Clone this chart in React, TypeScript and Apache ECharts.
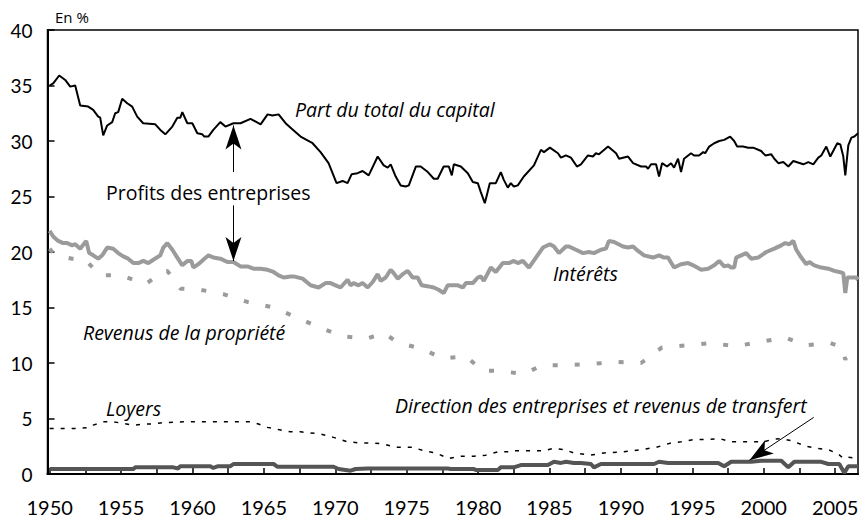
import React, { useEffect, useRef } from "react";
import * as echarts from "echarts";

const FONT = "Lato, 'Open Sans', sans-serif";
const TEXT_FONT = "'Open Sans', Lato, sans-serif";

const labelYears = [1950, 1955, 1960, 1965, 1970, 1975, 1980, 1985, 1990, 1995, 2000, 2005];
const tickYears = [1950, 1952.5, 1955, 1957.5, 1960, 1962.5, 1965, 1967.5, 1970, 1972.5, 1975, 1977.5, 1980, 1982.5, 1985, 1987.5, 1990, 1992.5, 1995, 1997.5, 2000, 2002.5, 2005];

// Part du total du capital
const capital: [number, number][] = [
  [1950.0, 35.0], [1950.25, 35.2], [1950.67, 35.9], [1951.09, 35.5], [1951.44, 34.9], [1951.79, 35.0], [1952.14, 33.2], [1952.7, 33.1], [1953.05, 32.8], [1953.4, 32.2], [1953.54, 32.1], [1953.75, 30.5], [1954.03, 31.4], [1954.38, 31.7], [1954.59, 32.5], [1954.8, 32.6], [1955.08, 33.8], [1955.43, 33.4], [1955.78, 33.1], [1956.13, 32.2], [1956.55, 31.6], [1957.4, 31.5], [1957.75, 31.0], [1958.1, 30.6], [1958.59, 31.3], [1958.94, 32.1], [1959.15, 32.1], [1959.29, 32.6], [1959.64, 31.6], [1959.99, 31.6], [1960.34, 30.7], [1960.69, 30.6], [1960.83, 30.4], [1961.11, 30.4], [1961.46, 31.0], [1961.95, 31.7], [1962.31, 31.3], [1962.87, 31.6], [1963.36, 31.6], [1964.07, 32.0], [1964.77, 31.5], [1965.26, 32.4], [1965.6, 32.3], [1966.03, 32.4], [1966.52, 31.6], [1966.87, 31.2], [1967.57, 30.4], [1968.41, 29.8], [1968.97, 29.0], [1969.53, 28.0], [1970.09, 26.2], [1970.51, 26.4], [1970.86, 26.2], [1971.14, 27.0], [1971.56, 27.1], [1971.91, 27.3], [1972.34, 26.9], [1972.97, 28.6], [1973.39, 27.8], [1973.67, 27.6], [1973.88, 27.9], [1974.23, 26.8], [1974.58, 26.0], [1974.93, 25.9], [1975.15, 26.0], [1975.64, 27.7], [1975.98, 27.7], [1976.48, 27.2], [1976.9, 26.6], [1977.17, 26.6], [1977.59, 27.7], [1977.95, 27.7], [1978.16, 26.9], [1978.3, 27.9], [1978.79, 27.7], [1979.28, 27.1], [1979.63, 26.3], [1979.98, 26.2], [1980.19, 25.4], [1980.47, 24.4], [1980.82, 26.2], [1981.24, 26.2], [1981.59, 27.2], [1981.8, 26.5], [1982.08, 25.8], [1982.29, 26.2], [1982.5, 25.9], [1982.78, 26.0], [1983.2, 26.8], [1983.91, 27.8], [1984.4, 29.2], [1984.61, 29.0], [1985.03, 29.4], [1985.59, 28.9], [1985.8, 28.5], [1986.15, 28.7], [1986.5, 28.5], [1986.92, 27.7], [1987.2, 27.9], [1987.69, 28.7], [1988.04, 28.6], [1988.25, 28.9], [1988.46, 28.8], [1989.1, 29.5], [1989.66, 28.9], [1989.87, 28.4], [1990.5, 28.6], [1990.85, 28.0], [1991.41, 27.7], [1991.76, 27.7], [1991.9, 27.5], [1992.11, 27.9], [1992.46, 27.9], [1992.67, 26.8], [1992.88, 28.0], [1993.23, 27.7], [1993.51, 28.0], [1993.72, 27.6], [1994.0, 28.4], [1994.21, 27.2], [1994.42, 28.4], [1994.91, 28.9], [1995.12, 28.7], [1995.47, 28.7], [1995.76, 29.0], [1995.9, 28.9], [1996.18, 29.5], [1996.53, 29.8], [1996.88, 30.0], [1997.23, 30.1], [1997.65, 30.4], [1997.93, 30.0], [1998.14, 29.5], [1998.56, 29.5], [1998.91, 29.4], [1999.26, 29.4], [1999.82, 29.1], [2000.11, 28.7], [2000.53, 28.8], [2000.74, 28.4], [2001.02, 28.0], [2001.37, 28.1], [2001.72, 27.7], [2002.07, 28.2], [2002.77, 27.9], [2003.12, 28.1], [2003.47, 27.9], [2003.82, 28.5], [2004.03, 28.7], [2004.38, 29.5], [2004.66, 28.6], [2005.15, 29.8], [2005.36, 29.7], [2005.57, 28.6], [2005.71, 26.9], [2005.92, 29.6], [2006.14, 30.3], [2006.35, 30.4], [2006.6, 30.7],
];

// Intérêts
const interets: [number, number][] = [
  [1950.0, 21.9], [1950.25, 21.4], [1950.6, 21.0], [1950.95, 20.8], [1951.23, 20.8], [1951.58, 20.6], [1951.79, 20.7], [1952.14, 20.3], [1952.56, 21.0], [1952.77, 19.9], [1953.05, 19.7], [1953.4, 19.4], [1953.68, 19.7], [1954.03, 20.4], [1954.45, 20.3], [1954.8, 19.9], [1955.15, 19.6], [1955.5, 19.4], [1955.86, 19.0], [1956.21, 19.0], [1956.56, 19.2], [1956.91, 19.0], [1957.26, 19.3], [1957.75, 19.7], [1957.96, 20.4], [1958.24, 20.8], [1958.59, 20.2], [1958.94, 19.5], [1959.29, 18.8], [1959.64, 19.2], [1959.92, 19.2], [1960.06, 18.6], [1960.41, 18.9], [1960.76, 19.3], [1961.12, 19.7], [1961.46, 19.5], [1961.95, 19.4], [1962.45, 19.1], [1962.87, 19.1], [1963.36, 18.7], [1963.85, 18.7], [1964.27, 18.5], [1964.76, 18.5], [1965.26, 18.4], [1965.68, 18.2], [1966.03, 17.9], [1966.38, 17.7], [1966.87, 17.8], [1967.08, 17.8], [1967.71, 17.6], [1968.27, 17.0], [1968.83, 16.8], [1969.32, 17.2], [1969.67, 17.2], [1970.02, 17.0], [1970.37, 16.8], [1970.86, 17.5], [1971.07, 17.0], [1971.28, 17.2], [1971.63, 17.0], [1971.91, 17.2], [1972.27, 16.8], [1972.62, 17.3], [1972.97, 18.0], [1973.18, 17.4], [1973.53, 17.7], [1973.88, 18.4], [1974.09, 18.1], [1974.37, 17.6], [1974.72, 18.0], [1975.07, 18.3], [1975.42, 17.7], [1975.77, 17.7], [1976.05, 17.0], [1976.54, 16.9], [1976.89, 16.8], [1977.24, 16.6], [1977.59, 16.3], [1977.87, 17.0], [1978.58, 17.0], [1978.93, 16.8], [1979.14, 17.2], [1979.63, 17.2], [1979.98, 17.7], [1980.19, 17.8], [1980.4, 17.4], [1980.89, 18.6], [1981.24, 18.2], [1981.73, 19.0], [1982.15, 19.0], [1982.5, 19.2], [1982.78, 19.0], [1983.13, 19.2], [1983.56, 18.6], [1984.05, 19.5], [1984.54, 20.4], [1985.03, 20.7], [1985.31, 20.5], [1985.66, 19.9], [1986.15, 20.5], [1986.36, 20.5], [1986.85, 20.2], [1987.34, 19.9], [1987.76, 20.0], [1988.11, 19.9], [1988.6, 20.2], [1988.95, 20.3], [1989.16, 21.0], [1989.52, 20.9], [1990.15, 20.5], [1990.5, 20.4], [1990.85, 20.5], [1991.2, 20.1], [1991.62, 19.7], [1992.25, 19.5], [1992.67, 19.7], [1993.02, 19.5], [1993.3, 19.5], [1993.72, 18.6], [1994.21, 18.9], [1994.71, 19.0], [1995.06, 18.8], [1995.62, 18.4], [1996.11, 18.5], [1996.53, 18.8], [1996.88, 19.2], [1997.23, 18.7], [1997.51, 18.8], [1997.72, 18.6], [1997.93, 18.6], [1998.07, 19.5], [1998.42, 19.7], [1998.77, 19.9], [1999.12, 19.4], [1999.61, 19.5], [2000.18, 20.0], [2000.74, 20.3], [2001.23, 20.6], [2001.51, 20.8], [2001.79, 20.7], [2002.07, 21.0], [2002.28, 20.2], [2002.63, 19.5], [2002.98, 18.9], [2003.19, 19.1], [2003.54, 18.8], [2004.03, 18.6], [2004.52, 18.5], [2004.94, 18.3], [2005.29, 18.2], [2005.57, 18.1], [2005.71, 16.3], [2005.85, 17.7], [2006.14, 17.7], [2006.49, 17.7], [2006.6, 17.5],
];

// Revenus de la propriété
const revenus: [number, number][] = [
  [1950.0, 20.3], [1950.25, 19.9], [1950.74, 19.6], [1951.58, 19.4], [1952.49, 19.3], [1953.54, 17.9], [1955.02, 17.9], [1956.7, 17.1], [1957.96, 18.2], [1958.24, 18.3], [1959.15, 16.7], [1960.55, 16.6], [1962.17, 16.2], [1963.85, 15.5], [1965.68, 15.0], [1967.29, 14.1], [1968.9, 13.2], [1970.51, 12.4], [1972.2, 12.2], [1973.39, 12.7], [1974.44, 11.8], [1976.05, 11.3], [1977.52, 10.4], [1979.14, 10.6], [1980.33, 9.3], [1981.45, 9.3], [1983.2, 9.0], [1984.47, 9.8], [1986.15, 9.8], [1987.9, 9.9], [1989.58, 10.1], [1991.41, 10.0], [1992.88, 11.4], [1994.63, 11.6], [1996.39, 11.8], [1998.0, 11.5], [1999.75, 11.9], [2001.51, 12.3], [2002.91, 11.6], [2004.66, 11.8], [2005.5, 11.4], [2005.71, 10.3], [2005.92, 11.0], [2006.6, 11.0],
];

// Loyers
const loyers: [number, number][] = [
  [1950.0, 4.1], [1951.93, 4.1], [1952.84, 4.2], [1953.05, 4.4], [1953.75, 4.7], [1954.45, 4.7], [1954.94, 4.6], [1955.86, 4.4], [1956.7, 4.5], [1957.26, 4.5], [1957.75, 4.6], [1959.36, 4.7], [1960.55, 4.7], [1962.31, 4.7], [1964.06, 4.7], [1964.62, 4.5], [1965.25, 4.2], [1966.03, 4.0], [1966.87, 3.8], [1967.57, 3.8], [1968.97, 3.6], [1969.88, 3.3], [1970.86, 2.9], [1971.77, 2.8], [1972.62, 2.8], [1973.39, 2.7], [1974.23, 2.4], [1975.42, 2.4], [1976.19, 2.1], [1977.03, 1.9], [1977.94, 1.4], [1978.79, 1.6], [1979.7, 1.6], [1980.54, 1.7], [1981.38, 2.0], [1982.29, 2.0], [1982.5, 2.1], [1984.61, 2.1], [1985.24, 2.3], [1986.01, 2.2], [1986.71, 1.9], [1987.9, 1.7], [1988.81, 1.9], [1990.21, 2.0], [1991.41, 2.2], [1992.46, 2.4], [1993.51, 2.8], [1994.21, 2.9], [1995.12, 3.1], [1996.11, 3.1], [1996.88, 3.2], [1997.72, 2.9], [1998.63, 2.9], [2000.04, 2.9], [2000.53, 3.1], [2001.23, 3.2], [2001.93, 3.0], [2002.98, 2.5], [2003.82, 2.3], [2004.52, 2.2], [2005.22, 1.8], [2005.57, 1.4], [2005.92, 1.5], [2006.6, 1.4],
];

// Direction des entreprises et revenus de transfert
const direction: [number, number][] = [
  [1950.0, 0.45], [1955.86, 0.45], [1956.0, 0.6], [1958.66, 0.6], [1959.0, 0.5], [1959.15, 0.7], [1961.25, 0.7], [1961.46, 0.55], [1961.8, 0.7], [1962.66, 0.7], [1962.87, 0.9], [1965.68, 0.9], [1965.96, 0.65], [1969.88, 0.65], [1970.23, 0.45], [1971.07, 0.3], [1971.42, 0.45], [1972.27, 0.5], [1977.87, 0.5], [1978.08, 0.45], [1979.7, 0.45], [1979.84, 0.35], [1981.38, 0.35], [1981.59, 0.6], [1982.5, 0.6], [1982.99, 0.8], [1984.89, 0.8], [1985.31, 1.1], [1985.8, 1.0], [1986.15, 1.1], [1986.71, 1.0], [1987.2, 1.0], [1987.9, 0.9], [1988.11, 0.6], [1988.6, 0.9], [1992.32, 0.9], [1992.67, 1.1], [1993.3, 1.0], [1996.81, 1.0], [1997.23, 0.7], [1997.72, 1.1], [1999.12, 1.1], [1999.82, 1.2], [2001.23, 1.2], [2001.72, 0.6], [2002.14, 1.1], [2004.03, 1.1], [2004.52, 0.9], [2005.29, 0.9], [2005.64, 0.1], [2005.92, 0.7], [2006.6, 0.7],
];

const textStyle = (text: string, x: number, y: number, italic: boolean, size = 19.5) => ({
  type: "text",
  x,
  y,
  silent: true,
  style: {
    text,
    fill: "#000",
    fontSize: size,
    fontFamily: TEXT_FONT,
    fontStyle: italic ? "italic" : "normal",
    verticalAlign: "middle",
    align: "left",
  },
});

export default function App() {
  const ref = useRef<HTMLDivElement>(null);

  useEffect(() => {
    if (!ref.current) return;
    const chart = echarts.init(ref.current, null, { renderer: "svg" });
    const arrowLine = { color: "#000", width: 1, type: "solid" as const };
    chart.setOption({
      animation: false,
      backgroundColor: "#fff",
      grid: {
        left: 47.5,
        right: 5,
        top: 30,
        bottom: 45,
        show: true,
        borderColor: "#000",
        borderWidth: 1.5,
        backgroundColor: "transparent",
      },
      xAxis: {
        type: "value",
        min: 1949.85,
        max: 2006.6,
        axisLine: { show: true, onZero: false, lineStyle: { color: "#000", width: 2 } },
        axisTick: { show: true, inside: true, length: 6, customValues: tickYears, lineStyle: { color: "#000", width: 1.5 } },
        axisLabel: {
          customValues: labelYears,
          formatter: (v: number) => String(v),
          fontSize: 20,
          lineHeight: 20,
          color: "#000",
          margin: 23,
          fontFamily: FONT,
        },
        splitLine: { show: false },
      },
      yAxis: {
        type: "value",
        min: 0,
        max: 40,
        interval: 5,
        axisLine: { show: true, lineStyle: { color: "#000", width: 2 } },
        axisTick: { show: true, inside: true, length: 7, lineStyle: { color: "#000", width: 1.5 } },
        axisLabel: { fontSize: 19, color: "#000", margin: 15, fontFamily: FONT },
        splitLine: { show: false },
      },
      series: [
        {
          name: "Direction des entreprises et revenus de transfert",
          type: "line",
          data: direction,
          showSymbol: false,
          lineStyle: { color: "#555555", width: 4 },
          z: 2,
        },
        {
          name: "Loyers",
          type: "line",
          data: loyers,
          showSymbol: false,
          lineStyle: { color: "#000", width: 1.5, type: [4, 7] },
          z: 3,
        },
        {
          name: "Revenus de la propriété",
          type: "line",
          data: revenus,
          showSymbol: false,
          lineStyle: { color: "#9b9b9b", width: 4, type: [5, 17] },
          z: 2,
        },
        {
          name: "Intérêts",
          type: "line",
          data: interets,
          showSymbol: false,
          lineStyle: { color: "#9b9b9b", width: 4 },
          z: 2,
        },
        {
          name: "Part du total du capital",
          type: "line",
          data: capital,
          showSymbol: false,
          lineStyle: { color: "#000", width: 2 },
          z: 4,
          markLine: {
            silent: true,
            symbol: ["none", "arrow"],
            symbolSize: [12, 24],
            lineStyle: arrowLine,
            itemStyle: { color: "#000" },
            label: { show: false },
            data: [
              [{ coord: [1962.87, 27.2] }, { coord: [1962.87, 31.4] }],
              [{ coord: [1962.87, 24.2] }, { coord: [1962.87, 19.2] }],
              [{ coord: [2003.5, 5.1] }, { coord: [1999.0, 1.25] }],
            ],
          },
        },
      ],
      graphic: [
        textStyle("En %", 55, 17, false, 15),
        textStyle("Part du total du capital", 295, 109, true),
        textStyle("Profits des entreprises", 106, 192, false),
        textStyle("Intérêts", 553, 273, true),
        textStyle("Revenus de la propriété", 83, 332, true),
        textStyle("Loyers", 106, 408, true),
        textStyle("Direction des entreprises et revenus de transfert", 395, 405, true),
      ],
    });
    return () => chart.dispose();
  }, []);

  return (
    <div
      ref={ref}
      style={{ position: "fixed", left: 0, top: 0, width: 863, height: 519, background: "#fff" }}
    />
  );
}
